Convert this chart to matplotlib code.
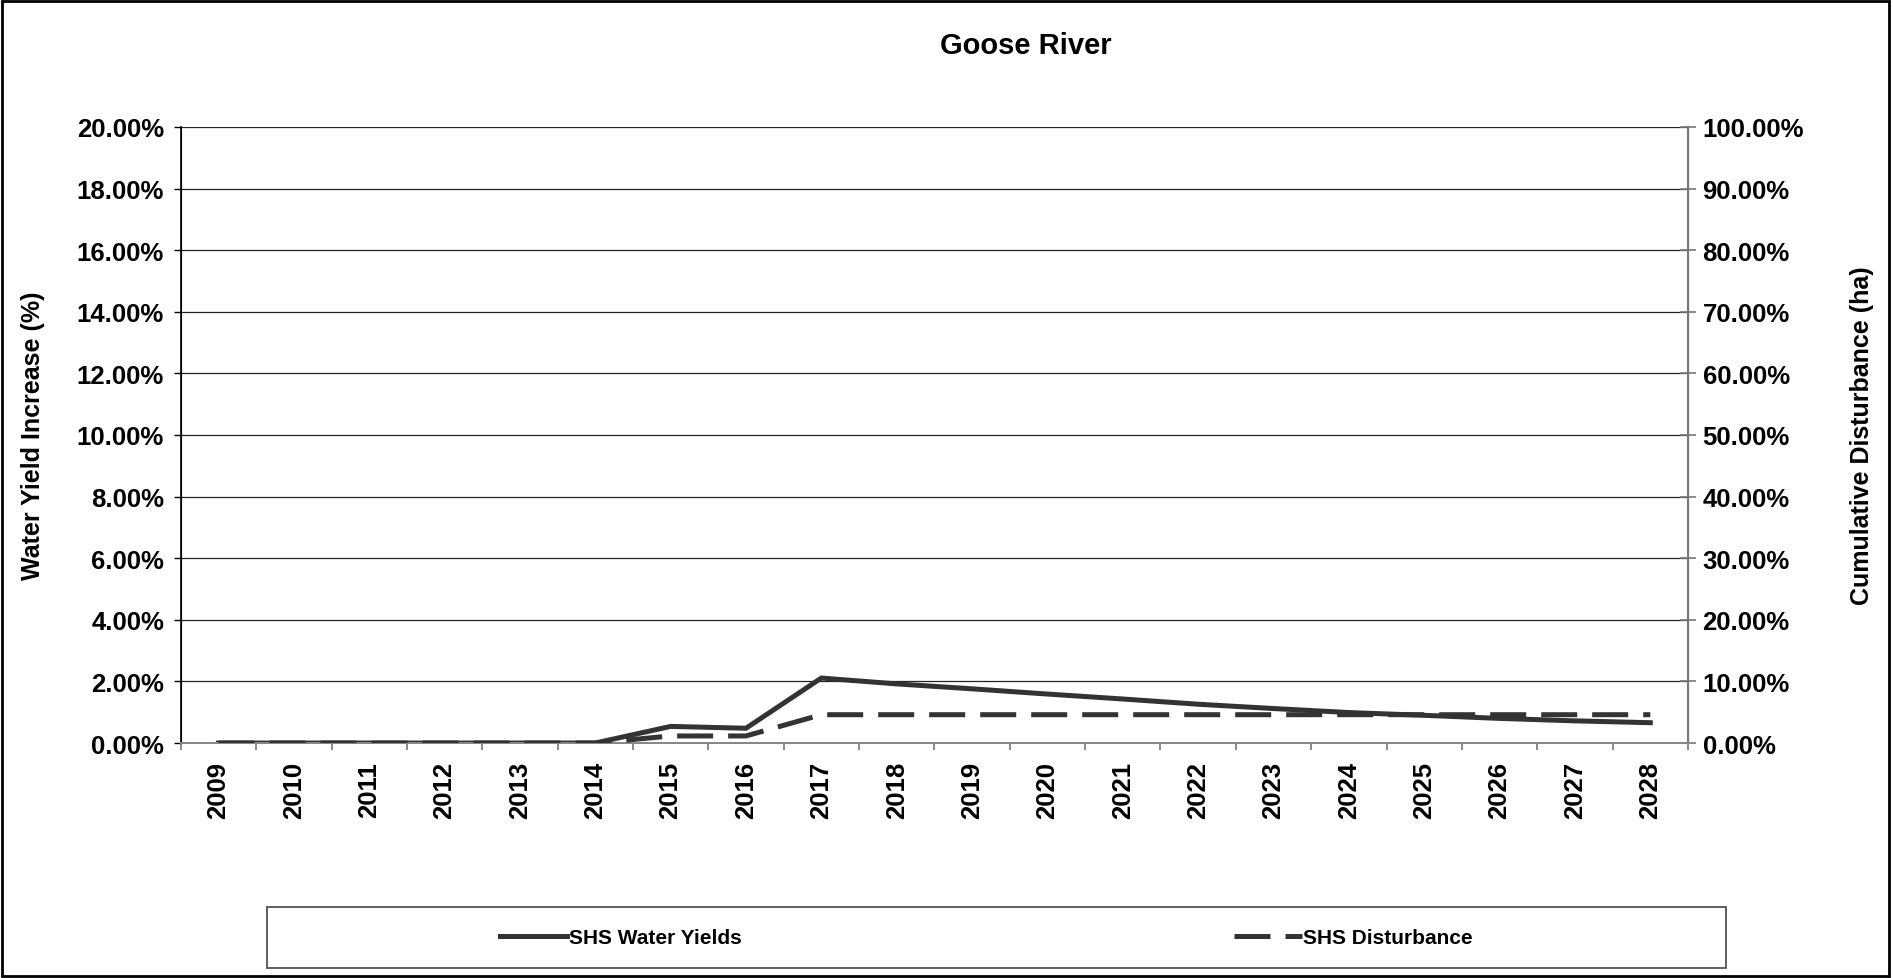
import matplotlib
matplotlib.use("Agg")
import matplotlib.pyplot as plt
from matplotlib.patches import Rectangle
from matplotlib.ticker import FuncFormatter, MultipleLocator, FixedLocator

plt.rcParams['font.family'] = ['Liberation Sans', 'DejaVu Sans']
plt.rcParams['font.weight'] = 'bold'

# data
years = ['2009', '2010', '2011', '2012', '2013', '2014', '2015', '2016', '2017', '2018',
         '2019', '2020', '2021', '2022', '2023', '2024', '2025', '2026', '2027', '2028']
water_yield = [0.0, 0.0, 0.0, 0.0, 0.0, 0.0, 0.54, 0.48, 2.11, 1.92,
               1.76, 1.59, 1.43, 1.26, 1.12, 0.99, 0.90, 0.80, 0.72, 0.66]
disturbance = [0.0, 0.0, 0.0, 0.0, 0.0, 0.0, 1.15, 1.15, 4.6, 4.6,
               4.6, 4.6, 4.6, 4.6, 4.6, 4.6, 4.6, 4.6, 4.6, 4.6]

line_col = '#333333'
fs = 18.5

fig = plt.figure(figsize=(18.93, 9.79), dpi=100)
ax = fig.add_axes([0.0955, 0.240, 0.7962, 0.6293])
ax2 = ax.twinx()

x = list(range(len(years)))
l1, = ax.plot(x, water_yield, color=line_col, lw=3.6, solid_joinstyle='miter',
              label='SHS Water Yields', zorder=3)
l2, = ax2.plot(x, disturbance, color=line_col, lw=3.6, dashes=(7.2, 3.0),
               label='SHS Disturbance', zorder=3)

ax.set_xlim(-0.5, len(years) - 0.5)
ax.set_ylim(0, 20)
ax2.set_ylim(0, 100)

ax.yaxis.set_major_locator(MultipleLocator(2))
ax2.yaxis.set_major_locator(MultipleLocator(10))
ax.yaxis.set_major_formatter(FuncFormatter(lambda v, p: f'{v:.2f}%'))
ax2.yaxis.set_major_formatter(FuncFormatter(lambda v, p: f'{v:.2f}%'))
ax.grid(axis='y', color='#222222', lw=0.9)
ax.set_axisbelow(True)

ax.xaxis.set_major_locator(FixedLocator(x))
ax.set_xticklabels(years, rotation=90, fontsize=fs, fontweight='bold')
ax.xaxis.set_minor_locator(FixedLocator([i - 0.5 for i in range(len(years) + 1)]))
ax.tick_params(axis='x', which='major', length=0, pad=13)
ax.tick_params(axis='x', which='minor', length=5, width=1.2, color='#777777', direction='out')
ax.tick_params(axis='y', length=5, width=1.0, direction='out', labelsize=fs, pad=7)
ax2.tick_params(axis='y', length=11, width=1.2, direction='inout', color='#777777',
                labelsize=fs, pad=5)
for lab in ax.get_yticklabels() + ax2.get_yticklabels():
    lab.set_fontweight('bold')

for a in (ax, ax2):
    a.spines['top'].set_visible(False)
    a.spines['bottom'].set_color('#888888')
    a.spines['bottom'].set_linewidth(1.4)
ax2.spines['left'].set_color('black')
ax2.spines['left'].set_linewidth(1.2)
ax2.spines['right'].set_color('#777777')
ax2.spines['right'].set_linewidth(1.5)

ax.set_ylabel('Water Yield Increase (%)', fontsize=18, fontweight='bold', va='center')
ax2.set_ylabel('Cumulative Disturbance (ha)', fontsize=18, fontweight='bold', va='center')
ax.yaxis.set_label_coords(-0.098, 0.5)
ax2.yaxis.set_label_coords(1.1156, 0.5)

fig.text(0.542, 0.953, 'Goose River', ha='center', va='center', fontsize=21, fontweight='bold')

# outer chart border
fig.patches.append(Rectangle((0.001, 0.002), 0.997, 0.996, transform=fig.transFigure,
                             fill=False, edgecolor='black', lw=2))
# legend box
fig.patches.append(Rectangle((0.141, 0.0102), 0.771, 0.0623, transform=fig.transFigure,
                             fill=False, edgecolor='#444444', lw=1.2))
fig.legend(handles=[l1], loc='center left', bbox_to_anchor=(0.264, 0.041), frameon=False,
           prop={'weight': 'bold', 'size': 15}, handlelength=3.25, handletextpad=0.05,
           borderaxespad=0, borderpad=0)
fig.legend(handles=[l2], loc='center left', bbox_to_anchor=(0.652, 0.041), frameon=False,
           prop={'weight': 'bold', 'size': 15}, handlelength=3.25, handletextpad=0.05,
           borderaxespad=0, borderpad=0)

fig.savefig('out.png', dpi=100)
